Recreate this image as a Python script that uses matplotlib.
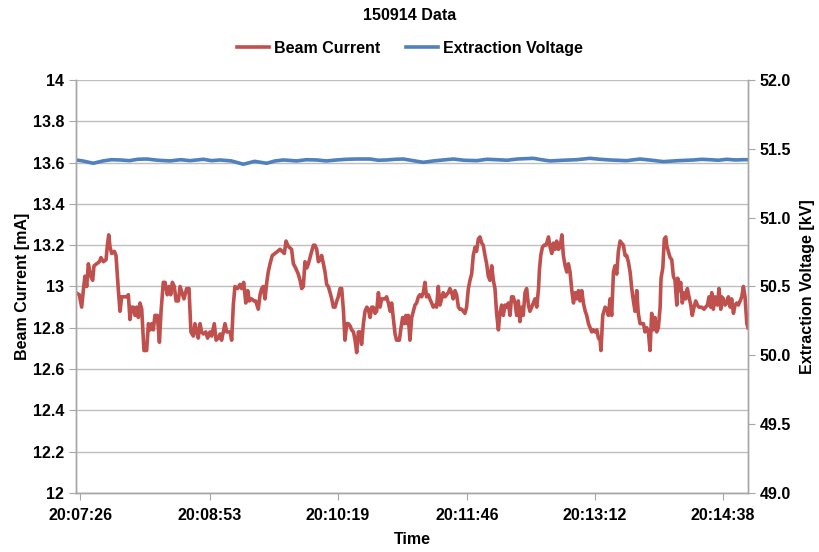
from datetime import datetime

import numpy as np
import matplotlib.pyplot as plt

plt.rcParams["font.family"] = ["Liberation Sans", "DejaVu Sans"]
plt.rcParams["font.weight"] = "bold"

# --- data ---
start_time = "20:07:23"
end_sec = 452.0

tick_labels = ["20:07:26", "20:08:53", "20:10:19", "20:11:46", "20:13:12", "20:14:38"]

# seconds since start_time
beam_t = [
    0, 2.2, 3.8, 4.9, 6.0, 7.2, 8.3, 9.9, 11.2, 12.1, 13.9, 15.7, 16.8, 18.4, 20.2,
    21.1, 22.0, 22.9, 24.0, 25.8, 26.9, 28.5, 29.6, 30.7, 32.3, 34.1, 35.2, 36.3,
    37.4, 38.6, 39.7, 40.8, 41.9, 43.0, 44.2, 45.7, 47.5, 48.7, 49.8, 50.9, 52.0,
    53.1, 54.7, 56.1, 57.2, 58.7, 59.9, 61.4, 62.6, 63.7, 64.8, 66.1, 67.3, 68.8,
    70.0, 71.3, 72.6, 74.4,
    75.1, 76.0, 77.3, 78.9, 80.0, 81.2, 82.2, 83.4, 84.5, 85.7, 87.3, 88.5, 90.1,
    91.2, 93.0, 94.2, 95.7, 96.9, 97.9, 99.1, 100.2, 101.4, 102.4, 103.6, 104.7,
    105.8, 106.9, 108.7, 110.3, 111.4, 112.8, 114.2, 115.5, 116.6, 118.1, 119.7,
    120.8, 122.6, 123.8, 124.9, 126.0, 127.1, 128.3, 129.3, 130.5, 132.0, 133.8,
    135.6, 137.2, 138.7, 140.1, 141.3, 142.4, 143.4, 145.0, 146.2, 147.7, 149.5,
    150.7, 151.8, 152.9, 154.0,
    155.2, 156.3, 157.4, 158.5, 159.7, 160.7, 161.9, 163.0, 164.2, 165.2, 166.4,
    167.5, 168.6, 169.7, 170.9, 172.0, 173.1, 174.2, 175.4, 176.4, 177.6, 178.7,
    179.9, 180.9, 182.1, 183.2, 184.3, 185.4, 186.6, 187.7, 188.8, 189.9, 191.1,
    192.1, 193.3, 194.4, 195.6, 196.6, 197.8, 198.9, 199.9, 201.1, 202.2, 203.4,
    204.5, 205.6, 206.8, 207.8, 208.9, 210.1, 211.3, 212.3, 213.4, 214.6, 215.6,
    217.5, 218.6, 219.7, 220.9, 221.9, 222.9, 223.5, 224.6, 225.8, 226.9, 228.0,
    229.1, 230.3, 231.3,
    232.5, 233.6, 234.7, 235.8, 237.0, 238.0, 239.2, 240.3, 241.5, 242.5, 243.7,
    244.8, 245.9, 247.0, 248.2, 249.3, 250.4, 251.5, 252.7, 253.7, 254.9, 256.0,
    257.2, 258.2, 259.4, 260.5, 261.6, 262.7, 263.9, 265.0, 266.1, 267.2, 268.4,
    269.4, 270.6, 271.7, 272.9, 273.9, 275.1, 276.2, 277.3, 278.4, 279.6, 280.7,
    281.8, 282.9, 284.1, 285.1, 286.3, 287.4, 288.6, 289.6, 290.8, 291.9, 293.0,
    294.1, 295.3, 296.4, 297.5, 298.6, 299.8, 300.8, 302.0, 303.1, 304.3, 305.3,
    306.5, 307.6, 308.7,
    309.9, 311.1, 311.7, 312.6, 313.7, 314.8, 316.2, 317.8, 318.9, 320.0, 321.1,
    322.3, 323.3, 324.5, 325.6, 326.8, 327.8, 329.0, 330.1, 331.2, 332.3, 333.5,
    334.6, 335.7, 336.8, 338.0, 339.0, 340.2, 341.3, 342.5, 343.5, 344.7, 345.8,
    346.9, 348.0, 349.2, 350.3, 351.4, 352.5, 353.1, 354.3, 355.9, 357.0, 358.1,
    359.2, 360.3, 361.5, 362.5, 363.7, 364.8, 366.0, 367.0, 368.2, 369.3, 370.4,
    371.5, 372.7, 373.8, 374.9, 376.0, 377.2, 378.2, 379.4, 380.5, 381.7, 382.7,
    383.9,
    385.0, 386.1, 387.2, 388.4, 389.4, 390.6, 391.7, 392.9, 393.5, 394.7, 395.7,
    396.7, 397.3, 398.4, 399.6, 400.7, 401.8, 402.9, 404.1, 404.7, 405.9, 406.7,
    407.8, 409.0, 410.1, 411.2, 412.3, 413.5, 414.5, 415.7, 416.8, 418.0, 419.0,
    420.8, 422.4, 423.5, 424.7, 425.8, 426.9, 427.6, 428.7, 429.8, 431.4, 432.5,
    433.7, 434.3, 435.5, 436.5, 437.7, 438.8, 440.0, 441.0, 442.2, 443.3, 444.4,
    445.5, 446.7, 447.8, 448.9, 450.0, 451.2, 452.0,
]

beam_ma = [
    12.97, 12.96, 12.90, 12.98, 13.05, 13.00, 13.11, 13.05, 13.03, 13.10, 13.11,
    13.12, 13.14, 13.12, 13.13, 13.20, 13.25, 13.19, 13.16, 13.17, 13.15, 12.98,
    12.88, 12.95, 12.95, 12.95, 12.96, 12.84, 12.90, 12.90, 12.86, 12.90, 12.85,
    12.92, 12.89, 12.69, 12.69, 12.82, 12.79, 12.82, 12.79, 12.86, 12.86, 12.73,
    12.88, 13.02, 13.02, 12.96, 13.00, 12.96, 13.02, 13.00, 12.93, 12.93, 13.00,
    12.97, 12.94, 12.99,
    12.99, 12.99, 12.78, 12.76, 12.82, 12.78, 12.75, 12.82, 12.78, 12.77, 12.78,
    12.75, 12.78, 12.76, 12.82, 12.74, 12.75, 12.77, 12.74, 12.78, 12.82, 12.78,
    12.78, 12.78, 12.74, 12.91, 13.00, 12.99, 13.01, 12.99, 13.02, 12.92, 12.98,
    12.93, 12.94, 12.93, 12.93, 12.89, 12.96, 12.99, 13.00, 12.94, 13.02, 13.07,
    13.11, 13.15, 13.16, 13.17, 13.18, 13.17, 13.16, 13.22, 13.20, 13.19, 13.18,
    13.11, 13.09, 13.06, 13.03, 12.99, 13.00, 13.12,
    13.09, 13.11, 13.14, 13.17, 13.20, 13.20, 13.18, 13.12, 13.13, 13.15, 13.11,
    13.07, 13.01, 13.00, 12.97, 12.94, 12.90, 12.90, 12.93, 12.95, 12.99, 12.99,
    12.88, 12.74, 12.82, 12.82, 12.81, 12.79, 12.78, 12.74, 12.68, 12.78, 12.78,
    12.72, 12.82, 12.88, 12.90, 12.89, 12.85, 12.90, 12.90, 12.87, 12.88, 12.97,
    12.90, 12.94, 12.94, 12.94, 12.95, 12.92, 12.88, 12.92, 12.85, 12.77, 12.74,
    12.74, 12.80, 12.85, 12.82, 12.86, 12.82, 12.86, 12.74, 12.85, 12.88, 12.91,
    12.92, 12.95, 12.96,
    12.95, 12.97, 13.02, 12.95, 12.96, 12.94, 12.92, 12.90, 12.91, 12.90, 13.00,
    12.91, 12.94, 12.97, 12.95, 12.96, 12.97, 12.99, 12.97, 12.94, 12.98, 12.96,
    12.90, 12.89, 12.89, 12.88, 12.87, 12.90, 12.99, 13.03, 13.06, 13.15, 13.19,
    13.17, 13.23, 13.24, 13.21, 13.20, 13.15, 13.11, 13.05, 13.03, 13.10, 13.03,
    12.99, 12.87, 12.79, 12.87, 12.91, 12.86, 12.91, 12.90, 12.92, 12.86, 12.95,
    12.95, 12.92, 12.86, 12.93, 12.83, 12.90, 12.86, 12.97, 12.99, 12.91, 12.88,
    12.90, 12.92, 12.94,
    12.90, 12.99, 13.08, 13.15, 13.19, 13.20, 13.20, 13.24, 13.19, 13.16, 13.21,
    13.18, 13.22, 13.18, 13.19, 13.25, 13.15, 13.10, 13.07, 13.11, 13.07, 12.98,
    12.92, 12.97, 12.94, 12.98, 12.93, 12.98, 12.92, 12.88, 12.86, 12.82, 12.80,
    12.78, 12.79, 12.78, 12.79, 12.75, 12.74, 12.69, 12.86, 12.90, 12.89, 12.86,
    12.94, 12.86, 13.07, 13.10, 13.06, 13.17, 13.22, 13.21, 13.20, 13.15, 13.15,
    13.12, 13.07, 12.99, 12.93, 12.88, 12.98, 12.87, 12.82, 12.82, 12.82, 12.78,
    12.80,
    12.78, 12.69, 12.87, 12.79, 12.85, 12.78, 12.80, 12.90, 13.04, 13.09, 13.23,
    13.24, 13.20, 13.17, 13.14, 13.13, 13.05, 13.03, 12.91, 13.04, 12.98, 13.02,
    12.92, 12.97, 12.94, 12.99, 12.95, 12.91, 12.86, 12.90, 12.93, 12.91, 12.90,
    12.90, 12.89, 12.90, 12.91, 12.95, 12.90, 12.97, 12.89, 12.95, 12.91, 12.99,
    12.89, 12.95, 12.94, 12.91, 12.92, 12.95, 12.90, 12.94, 12.87, 12.91, 12.92,
    12.91, 12.93, 12.95, 13.00, 12.95, 12.82, 12.80,
]

volt_t = [
    0, 4.5, 11.6, 18.2, 23.9, 29.6, 36.0, 41.5, 47.5, 55.1, 63.2, 70.4, 76.7, 85.7,
    91.2, 96.9, 104.5, 112.6, 120.1, 128.3, 133.9, 139.5, 148.5, 155.0, 161.9,
    168.4, 175.4, 182.0, 188.8, 197.8, 203.3, 208.9, 214.7, 220.1, 226.8, 233.6,
    240.3, 247.0, 253.8, 261.0, 269.5, 276.4, 282.9, 289.9, 297.0, 307.6, 313.0,
    318.8, 327.5, 336.8, 345.7, 352.4, 359.2, 370.4, 379.4, 387.3, 395.1, 405.0,
    415.3, 420.8, 426.5, 432.0, 437.7, 443.5, 448.9, 452.0,
]

volt_kv = [
    51.419, 51.412, 51.395, 51.412, 51.421, 51.419, 51.414, 51.424, 51.426, 51.417,
    51.412, 51.421, 51.414, 51.424, 51.414, 51.419, 51.412, 51.388, 51.409, 51.395,
    51.412, 51.419, 51.412, 51.421, 51.419, 51.412, 51.419, 51.424, 51.426, 51.426,
    51.417, 51.419, 51.424, 51.426, 51.414, 51.402, 51.412, 51.419, 51.426, 51.417,
    51.414, 51.424, 51.421, 51.417, 51.426, 51.431, 51.421, 51.412, 51.417, 51.421,
    51.431, 51.424, 51.419, 51.414, 51.426, 51.417, 51.407, 51.414, 51.419, 51.424,
    51.421, 51.417, 51.424, 51.419, 51.421, 51.421,
]

red = "#C0504D"
blue = "#4F81BD"
axis_gray = "#A6A6A6"
grid_gray = "#BFBFBF"
fs = 11.5

t0 = datetime.strptime(start_time, "%H:%M:%S")
tick_pos = [(datetime.strptime(s, "%H:%M:%S") - t0).total_seconds() for s in tick_labels]

fig = plt.figure(figsize=(8.2, 5.52), dpi=100)
ax = fig.add_axes([0.0927, 0.1069, 0.8195, 0.7482])
ax2 = ax.twinx()

line_beam, = ax.plot(beam_t, beam_ma, color=red, lw=2.6, solid_joinstyle="round",
                     label="Beam Current")
line_volt, = ax2.plot(volt_t, volt_kv, color=blue, lw=2.6, solid_joinstyle="round",
                      label="Extraction Voltage")

ax.set_xlim(0, end_sec)
ax.set_ylim(12, 14)
ax2.set_ylim(49, 52)

left_ticks = np.round(np.arange(12, 14.01, 0.2), 1)
ax.set_yticks(left_ticks)
ax.set_yticklabels([f"{v:g}" for v in left_ticks])
right_ticks = np.arange(49, 52.01, 0.5)
ax2.set_yticks(right_ticks)
ax2.set_yticklabels([f"{v:.1f}" for v in right_ticks])
ax.set_xticks(tick_pos)
ax.set_xticklabels(tick_labels)

ax.grid(axis="y", color=grid_gray, lw=1.0)
ax.set_axisbelow(True)

for a in (ax, ax2):
    a.spines["top"].set_visible(False)
    for s in ("left", "right", "bottom"):
        a.spines[s].set_color(axis_gray)
        a.spines[s].set_linewidth(1.0)
    a.tick_params(colors=axis_gray, labelcolor="black", labelsize=fs, length=5)

ax.tick_params(axis="x", pad=6)

ax.set_ylabel("Beam Current [mA]", fontsize=fs, fontweight="bold", labelpad=2)
ax2.set_ylabel("Extraction Voltage [kV]", fontsize=fs, fontweight="bold", labelpad=6)
ax.set_xlabel("Time", fontsize=fs, fontweight="bold", labelpad=6)

fig.suptitle("150914 Data", y=0.985, fontsize=fs, fontweight="bold")
fig.legend(handles=[line_beam, line_volt], loc="center", bbox_to_anchor=(0.5, 0.912),
           ncol=2, frameon=False, fontsize=fs, handlelength=2.0, columnspacing=1.6,
           handletextpad=0.3)

fig.savefig("out.png", dpi=100)
